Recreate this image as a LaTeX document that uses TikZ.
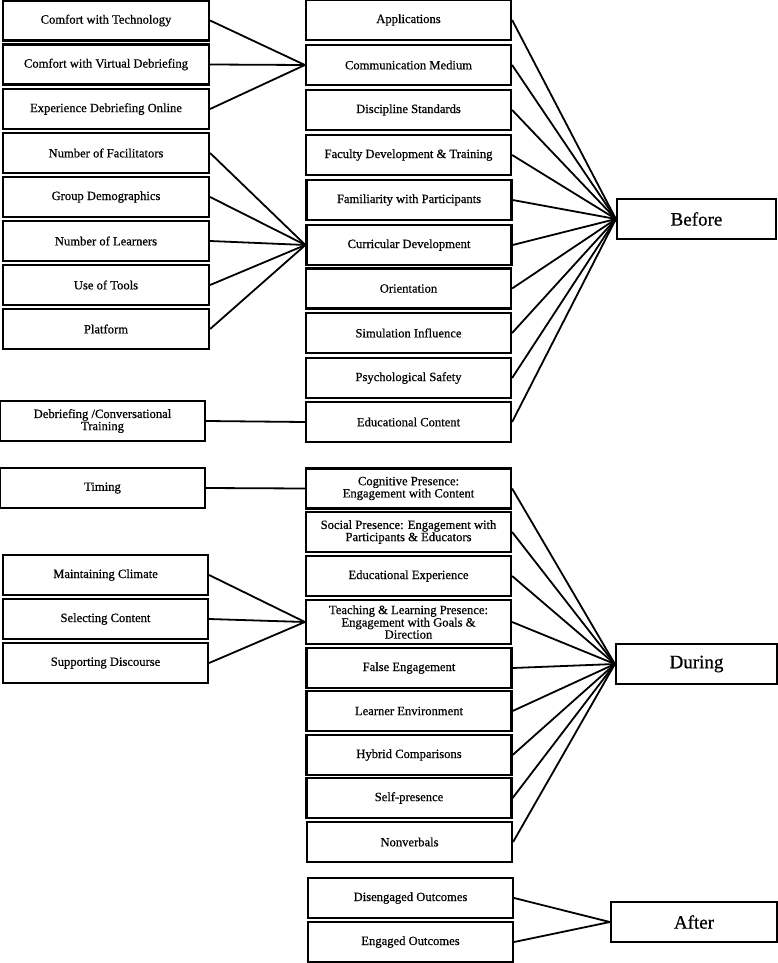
\documentclass[tikz,border=0pt]{standalone}
\usepackage{fontspec}
\setmainfont[FakeBold=0.6,AutoFakeBold=0.6]{Liberation Serif}
\usepackage{tikz}
\tikzset{>=latex}
\tikzset{
    box/.style={draw, line width=2.2pt, minimum width=205pt, minimum height=40pt,
        inner sep=1pt, align=center, font=\fontsize{12.6}{12.2}\selectfont\bfseries},
    phase/.style={draw, line width=2.2pt, minimum height=40pt, inner sep=1pt,
        font=\fontsize{19}{19}\selectfont},
    link/.style={line width=1.8pt}
}

\begin{document}
\begin{tikzpicture}[x=1pt, y=-1pt]
    \useasboundingbox (0,0) rectangle (778,963);

    % Left column
    \node[box, minimum width=206pt] (CT)  at (106,20.5) {Comfort with Technology};
    \node[box, minimum width=206pt] (CVD) at (106,64.5) {Comfort with Virtual Debriefing};
    \node[box, minimum width=206pt] (EDO) at (106,109) {Experience Debriefing Online};
    \node[box, minimum width=206pt] (NF)  at (106,153) {Number of Facilitators};
    \node[box, minimum width=206pt] (GD)  at (106,197) {Group Demographics};
    \node[box, minimum width=206pt] (NL)  at (106,241) {Number of Learners};
    \node[box, minimum width=206pt] (UT)  at (106,285) {Use of Tools};
    \node[box, minimum width=206pt] (PF)  at (106,329) {Platform};
    \node[box] (DCT) at (102.5,421) {Debriefing /Conversational\\Training};
    \node[box] (TM)  at (102.5,488) {Timing};
    \node[box] (MC)  at (105.5,575) {Maintaining Climate};
    \node[box] (SC)  at (105.5,619) {Selecting Content};
    \node[box] (SD)  at (105.5,663) {Supporting Discourse};

    % Middle column, before
    \node[box] (AP) at (408.5,20)  {Applications};
    \node[box] (CM) at (408.5,65)  {Communication Medium};
    \node[box] (DS) at (408.5,110) {Discipline Standards};
    \node[box] (FD) at (408.5,155) {Faculty Development \& Training};
    \node[box] (FP) at (409,200)   {Familiarity with Participants};
    \node[box] (CD) at (409,245)   {Curricular Development};
    \node[box] (OR) at (408.5,288.5) {Orientation};
    \node[box] (SI) at (408.5,333) {Simulation Influence};
    \node[box] (PS) at (408.5,378) {Psychological Safety};
    \node[box] (EC) at (408.5,422) {Educational Content};

    % Middle column, during
    \node[box] (CP) at (408.5,488.5) {Cognitive Presence:\\Engagement with Content};
    \node[box] (SP) at (408.5,532) {Social Presence: Engagement with\\Participants \& Educators};
    \node[box] (EE) at (408.5,576) {Educational Experience};
    \node[box, minimum height=44pt, font=\fontsize{12.6}{11}\selectfont\bfseries] (TL) at (408.5,622)
        {Teaching \& Learning Presence:\\Engagement with Goals \&\\Direction};
    \node[box] (FE) at (409,668) {False Engagement};
    \node[box] (LE) at (409,711) {Learner Environment};
    \node[box] (HC) at (409,755) {Hybrid Comparisons};
    \node[box] (SE) at (409,798) {Self-presence};
    \node[box] (NV) at (409.5,842) {Nonverbals};

    % Middle column, after
    \node[box] (DO) at (410.5,898) {Disengaged Outcomes};
    \node[box] (EO) at (410.5,942) {Engaged Outcomes};

    % Phases
    \node[phase, minimum width=159pt] (B) at (696.5,219) {Before};
    \node[phase, minimum width=161pt] (D) at (696.5,664) {During};
    \node[phase, minimum width=166pt] (A) at (694,922) {After};

    % Links into Communication Medium
    \draw[link] (CT.east) -- (CM.west);
    \draw[link] (CVD.east) -- (CM.west);
    \draw[link] (EDO.east) -- (CM.west);

    % Links into Curricular Development
    \draw[link] (NF.east) -- (CD.west);
    \draw[link] (GD.east) -- (CD.west);
    \draw[link] (NL.east) -- (CD.west);
    \draw[link] (UT.east) -- (CD.west);
    \draw[link] (PF.east) -- (CD.west);

    % Single links
    \draw[link] (DCT.east) -- (EC.west);
    \draw[link] (TM.east) -- (CP.west);

    % Links into Teaching & Learning Presence
    \draw[link] (MC.east) -- (TL.west);
    \draw[link] (SC.east) -- (TL.west);
    \draw[link] (SD.east) -- (TL.west);

    % Before
    \draw[link] (AP.east) -- (B.west);
    \draw[link] (CM.east) -- (B.west);
    \draw[link] (DS.east) -- (B.west);
    \draw[link] (FD.east) -- (B.west);
    \draw[link] (FP.east) -- (B.west);
    \draw[link] (CD.east) -- (B.west);
    \draw[link] (OR.east) -- (B.west);
    \draw[link] (SI.east) -- (B.west);
    \draw[link] (PS.east) -- (B.west);
    \draw[link] (EC.east) -- (B.west);

    % During
    \draw[link] (CP.east) -- (D.west);
    \draw[link] (SP.east) -- (D.west);
    \draw[link] (EE.east) -- (D.west);
    \draw[link] (TL.east) -- (D.west);
    \draw[link] (FE.east) -- (D.west);
    \draw[link] (LE.east) -- (D.west);
    \draw[link] (HC.east) -- (D.west);
    \draw[link] (SE.east) -- (D.west);
    \draw[link] (NV.east) -- (D.west);

    % After
    \draw[link] (DO.east) -- (A.west);
    \draw[link] (EO.east) -- (A.west);
\end{tikzpicture}
\end{document}
